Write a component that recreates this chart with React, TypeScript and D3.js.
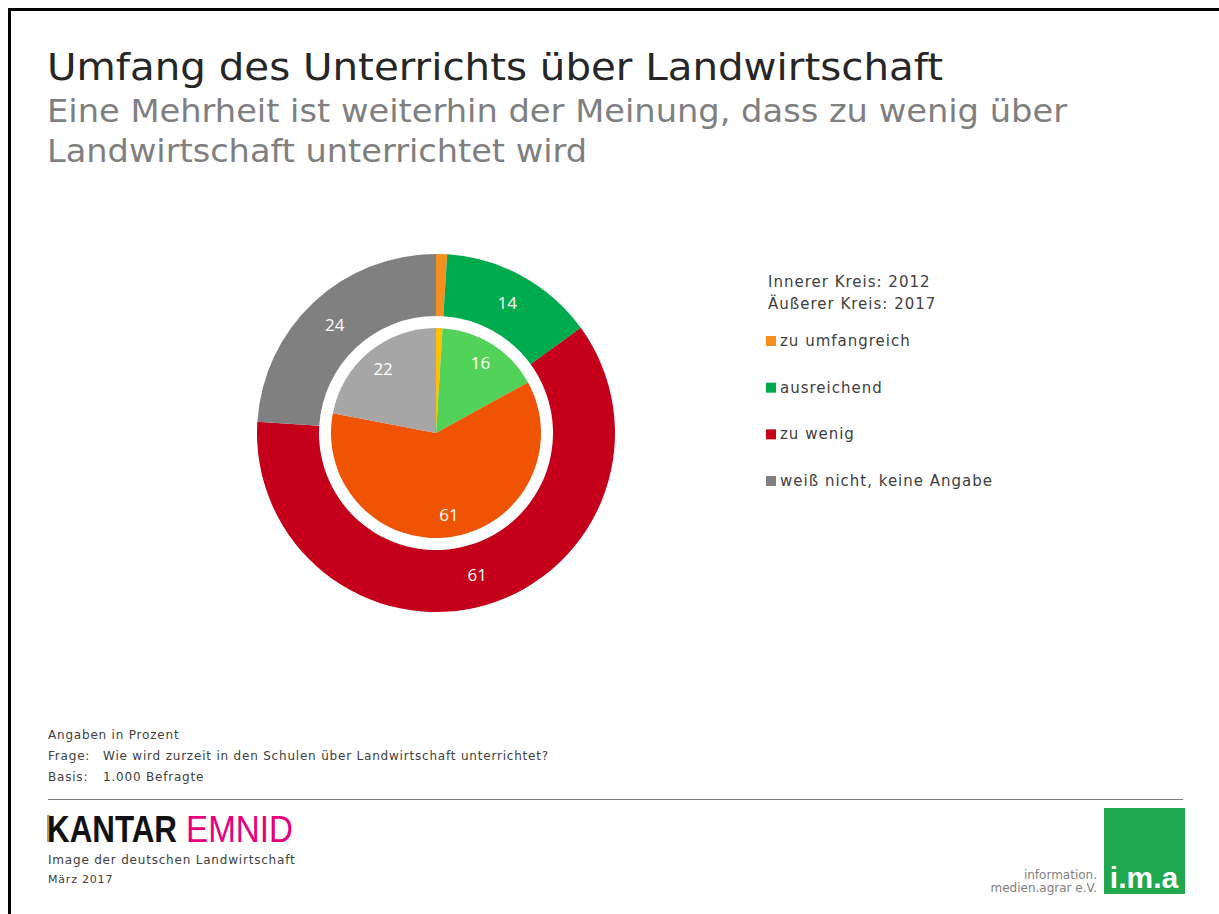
import React from "react";
import * as d3 from "d3";

const categories = ["zu umfangreich", "ausreichend", "zu wenig", "weiß nicht, keine Angabe"];
const values2017 = [1, 14, 61, 24];
const values2012 = [1, 16, 61, 22];
const colors2017 = ["#F39020", "#00AB4E", "#C4001A", "#808080"];
const colors2012 = ["#FFC000", "#53D259", "#EF5405", "#A6A6A6"];
const legendTitles = ["Innerer Kreis: 2012", "Äußerer Kreis: 2017"];
const title = "Umfang des Unterrichts über Landwirtschaft";
const subtitleLines = ["Eine Mehrheit ist weiterhin der Meinung, dass zu wenig über", "Landwirtschaft unterrichtet wird"];

const FONT = "'DejaVu Sans', Verdana, sans-serif";
const NUMFONT = "'Open Sans', 'Noto Sans', sans-serif";

export default function App() {
  const cx = 436, cy = 433;
  const pie = d3.pie<number>().sort(null).value((d) => d);
  const outerArcs = pie(values2017);
  const innerArcs = pie(values2012);
  const outerArc = d3.arc<d3.PieArcDatum<number>>().innerRadius(117).outerRadius(179);
  const innerArc = d3.arc<d3.PieArcDatum<number>>().innerRadius(0).outerRadius(105);
  const outerLabel = d3.arc<d3.PieArcDatum<number>>().innerRadius(148).outerRadius(148);
  const innerLabel = d3.arc<d3.PieArcDatum<number>>().innerRadius(83).outerRadius(83);

  const legendY = d3.scalePoint<string>().domain(categories).range([346, 486]);

  return (
    <svg width={1219} height={914} style={{ position: "absolute", left: 0, top: 0, background: "#fff" }}>
      <rect x={0} y={0} width={1219} height={914} fill="#fff" />
      <line x1={8} y1={9.5} x2={1219} y2={9.5} stroke="#000" strokeWidth={3} />
      <line x1={9.5} y1={8} x2={9.5} y2={914} stroke="#000" strokeWidth={3} />

      <text x={47} y={80} fontFamily={FONT} fontSize={38} fill="#262626" textLength={896} lengthAdjust="spacingAndGlyphs">{title}</text>
      {subtitleLines.map((l, i) => (
        <text key={i} x={47} y={122 + i * 40} fontFamily={FONT} fontSize={32} fill="#7F7F7F"
          textLength={i === 0 ? 1020 : 540} lengthAdjust="spacingAndGlyphs">{l}</text>
      ))}

      <g transform={`translate(${cx},${cy})`}>
        {outerArcs.map((a, i) => (
          <path key={"o" + i} d={outerArc(a) || ""} fill={colors2017[i]} />
        ))}
        {innerArcs.map((a, i) => (
          <path key={"i" + i} d={innerArc(a) || ""} fill={colors2012[i]} />
        ))}
        {outerArcs.map((a, i) => {
          if (a.data < 5) return null;
          const [x, y] = outerLabel.centroid(a);
          return (
            <text key={"ol" + i} x={x} y={y} dy="0.35em" textAnchor="middle" fontFamily={NUMFONT} fontSize={17} fill="#fff">{a.data}</text>
          );
        })}
        {innerArcs.map((a, i) => {
          if (a.data < 5) return null;
          const [x, y] = innerLabel.centroid(a);
          return (
            <text key={"il" + i} x={x} y={y} dy="0.35em" textAnchor="middle" fontFamily={NUMFONT} fontSize={17} fill="#fff">{a.data}</text>
          );
        })}
      </g>

      {legendTitles.map((t, i) => (
        <text key={t} x={768} y={287 + i * 22} fontFamily={FONT} fontSize={15} letterSpacing={1} fill="#404040">{t}</text>
      ))}
      {categories.map((c, i) => (
        <g key={c}>
          <rect x={766} y={(legendY(c) || 0) - 10} width={10} height={10} fill={colors2017[i]} />
          <text x={780} y={legendY(c)} fontFamily={FONT} fontSize={15} letterSpacing={1} fill="#404040">{c}</text>
        </g>
      ))}

      <g fontFamily={FONT} fontSize={12} fill="#404040" letterSpacing={0.8}>
        <text x={48} y={739}>Angaben in Prozent</text>
        <text x={48} y={760}>Frage:</text>
        <text x={103} y={760}>Wie wird zurzeit in den Schulen über Landwirtschaft unterrichtet?</text>
        <text x={48} y={781}>Basis:</text>
        <text x={103} y={781}>1.000 Befragte</text>
        <text x={48} y={864}>Image der deutschen Landwirtschaft</text>
        <text x={48} y={883} fontSize={11}>März 2017</text>
      </g>
      <line x1={48} y1={799.5} x2={1183} y2={799.5} stroke="#7F7F7F" strokeWidth={1} />

      <rect x={47} y={815} width={3} height={27} fill="#C9A227" />
      <text x={47} y={842} fontFamily="'Liberation Sans', Arial, sans-serif" fontWeight="bold" fontSize={36} fill="#111" textLength={130} lengthAdjust="spacingAndGlyphs">KANTAR</text>
      <text x={186} y={842} fontFamily="'Liberation Sans', Arial, sans-serif" fontSize={37} fill="#E6007E" textLength={107} lengthAdjust="spacingAndGlyphs">EMNID</text>

      <rect x={1104} y={808} width={81} height={86} fill="#1FA84F" />
      <text x={1144} y={888} textAnchor="middle" fontFamily="'Liberation Sans', Arial, sans-serif" fontWeight="bold" fontSize={30} fill="#fff">i.m.a</text>
      <text x={1097} y={879} textAnchor="end" fontFamily={FONT} fontSize={12} fill="#808080">information.</text>
      <text x={1097} y={892} textAnchor="end" fontFamily={FONT} fontSize={12} fill="#808080">medien.agrar e.V.</text>
    </svg>
  );
}
